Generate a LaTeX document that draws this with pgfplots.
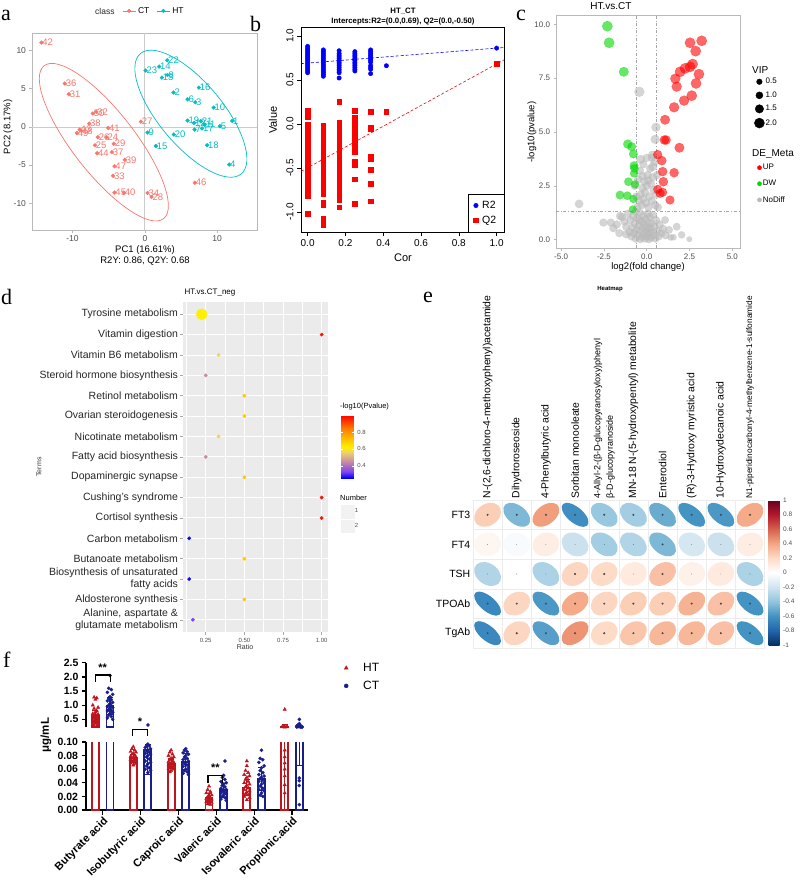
\documentclass[border=0pt]{standalone}
\usepackage{fontspec}
\setmainfont{Liberation Sans}
\newfontfamily\serifl{Liberation Serif}
\usepackage{pgfplots}
\usepackage{pgfplotstable}
\pgfplotsset{compat=1.18}
\pgfplotsset{/pgf/number format/assume math mode=true}
\newcommand\fz[1]{\fontsize{#1}{#1}\selectfont}

\definecolor{ctc}{RGB}{248,118,109}
\definecolor{htc}{RGB}{0,191,196}
\definecolor{upc}{RGB}{255,0,0}
\definecolor{dwc}{RGB}{0,215,0}
\definecolor{ndc}{RGB}{185,185,185}
\definecolor{ggbg}{RGB}{235,235,235}
\definecolor{htred}{RGB}{190,20,30}
\definecolor{ctblue}{RGB}{25,30,140}
\definecolor{tickgrey}{RGB}{77,77,77}

% ---------- a: PCA scores
\pgfplotstableread{
x y l
-14.3 11.05 42
-11.06 5.68 36
-10.5 4.28 31
-6.7 1.97 32
-7.2 1.75 50
-7.7 0.44 38
-5.07 -0.13 41
-9.0 -0.35 43
-9.4 -0.8 49
-8.8 -0.5 48
-6.5 -1.35 26
-5.3 -1.35 24
-6.9 -2.4 25
-4.3 -2.2 29
-6.6 -3.45 44
-4.56 -3.3 37
-2.76 -4.3 39
-4.2 -5.15 47
-4.4 -6.4 33
-4.2 -8.6 45
-2.9 -8.6 40
0.37 -8.65 34
0.92 -9.17 28
-0.55 0.7 27
6.9 -7.3 46
}\datCT
\pgfplotstableread{
x y l
3.09 8.73 22
1.98 7.9 14
0.09 7.38 23
3.13 6.8 8
2.35 6.46 13
3.96 4.5 2
7.47 5.15 16
5.9 3.62 6
6.96 3.23 3
9.5 2.53 10
12.07 0.79 1
5.9 0.83 19
7.74 0.74 21
6.8 0.52 12
8.25 0.3 11
10.37 0.09 5
7.9 -0.2 17
6.87 -0.35 7
4.0 -1.0 20
0.37 -0.74 9
1.52 -2.5 15
8.6 -2.4 18
11.66 -4.93 4
}\datHT

% ---------- c: volcano
\pgfplotstableread{
x y s
-2.30 9.92 5.2
-2.20 9.15 5.2
-1.34 7.80 4.8
-1.11 4.44 4.5
-0.88 4.32 4.3
-0.78 3.98 4.3
-0.74 3.44 4.3
-0.72 3.31 4.2
-0.74 3.08 4.0
-1.07 2.69 4.2
-0.68 2.57 4.0
-1.56 2.07 4.3
-1.13 2.04 4.2
-0.78 1.89 4.0
-0.82 1.41 3.8
}\datDW
\pgfplotstableread{
x y s
2.53 9.15 5.2
3.21 9.24 5.2
2.86 8.76 5.2
2.68 8.16 5.2
2.53 8.03 5.2
2.24 7.96 5.2
1.95 7.80 5.2
3.05 7.69 5.2
1.67 7.48 5.0
1.75 7.11 5.0
2.88 7.26 5.2
2.63 6.69 5.2
2.18 6.46 5.0
1.60 6.15 5.0
1.07 5.57 4.8
1.03 4.63 4.6
1.13 4.63 4.6
1.91 4.27 4.8
0.64 3.95 4.5
0.88 3.67 4.6
0.93 3.16 4.6
1.60 3.11 4.6
0.97 2.69 4.6
0.64 2.34 4.4
0.93 2.20 4.4
0.78 2.15 4.4
1.36 1.84 4.4
}\datUP
\pgfplotstableread{
x y s
-0.43 6.87 5.0
0.54 5.22 4.5
0.49 4.66 4.5
-3.95 1.66 4.2
-2.53 0.79 4.0
-2.10 0.79 4.0
-1.95 0.53 4.0
-1.56 1.10 4.0
1.07 0.91 3.8
1.75 0.60 3.8
2.04 0.22 3.6
1.56 0.11 3.2
1.40 0.10 3.2
2.49 0.02 2.8
-0.35 3.73 4.3
0.33 3.93 4.3
0.35 3.39 4.3
-1.20 0.25 4.0
1.30 0.45 3.8
-1.45 1.05 4
-1.30 0.85 4
-1.20 0.60 4
-1.10 1.20 4
-1.00 0.35 4
-0.95 0.90 4
-0.90 0.15 4
-0.85 0.55 4
-0.80 1.10 4
-0.75 0.30 4
-0.70 0.75 4
-0.65 0.05 4
-0.60 0.45 4
-0.55 1.00 4
-0.50 0.20 4
-0.45 0.65 4
-0.40 1.25 4
-0.38 0.02 4
-0.35 0.40 4
-0.30 0.85 4
-0.28 0.12 4
-0.25 0.55 4
-0.20 1.10 4
-0.18 0.28 4
-0.15 0.70 4
-0.10 0.05 4
-0.08 0.95 4
-0.05 0.38 4
0.00 0.60 4
0.02 0.15 4
0.05 1.20 4
0.08 0.45 4
0.10 0.80 4
0.12 0.02 4
0.15 0.30 4
0.18 1.05 4
0.20 0.55 4
0.25 0.10 4
0.28 0.75 4
0.30 0.35 4
0.35 1.15 4
0.40 0.20 4
0.45 0.60 4
0.50 0.05 4
0.55 0.90 4
0.60 0.40 4
0.70 0.15 4
0.75 0.70 4
0.85 0.30 4
0.95 0.50 4
1.10 0.20 4
-1.60 0.30 4
-1.75 0.70 4
-0.45 0.90 4
-0.55 1.50 4
-0.45 1.80 4
-0.35 2.10 4
-0.30 1.60 4
-0.25 2.40 4
-0.20 1.90 4
-0.15 2.70 4
-0.10 2.20 4
-0.05 1.70 4
0.00 2.50 4
0.05 3.00 4
0.10 1.50 4
0.15 2.00 4
0.20 3.30 4
0.25 2.60 4
0.30 1.80 4
0.35 2.90 4
0.40 2.30 4
0.45 3.60 4
0.50 1.60 4
-0.60 2.00 4
-0.50 2.80 4
-0.40 3.20 4
-0.20 3.50 4
0.00 3.80 4
0.30 3.80 4
0.55 2.10 4
0.60 3.00 4
-0.70 2.50 4
-0.65 1.30 4
0.65 1.50 4
-0.25 2.95 4
0.10 2.75 4
}\datND

% ---------- d: enrichment
\pgfplotstableread{
k r p s
16 0.224 0.62 5.5
15 1.0 0.98 1.7
14 0.333 0.56 1.7
13 0.25 0.45 1.7
12 0.5 0.70 1.7
11 0.5 0.70 1.7
10 0.333 0.56 1.7
9 0.25 0.45 1.7
8 0.5 0.70 1.7
7 1.0 0.98 1.7
6 1.0 0.98 1.7
5 0.143 0.26 1.7
4 0.5 0.70 1.7
3 0.143 0.26 1.7
2 0.5 0.70 1.7
1 0.167 0.33 1.7
}\datKegg

% ---------- e: correlations
\pgfplotstableread{
x y r
1 5 0.25
2 5 -0.45
3 5 0.42
4 5 -0.62
5 5 -0.38
6 5 -0.35
7 5 -0.5
8 5 -0.6
9 5 -0.58
10 5 0.38
1 4 0.05
2 4 -0.03
3 4 0.1
4 4 -0.22
5 4 -0.35
6 4 -0.3
7 4 -0.45
8 4 -0.18
9 4 -0.22
10 4 0.1
1 3 -0.3
2 3 0.0
3 3 -0.32
4 3 0.22
5 3 0.2
6 3 0.12
7 3 0.3
8 3 0.08
9 3 0.12
10 3 -0.32
1 2 -0.65
2 2 0.22
3 2 -0.58
4 2 0.38
5 2 0.22
6 2 0.25
7 2 0.25
8 2 0.35
9 2 0.3
10 2 -0.6
1 1 -0.65
2 1 0.22
3 1 -0.55
4 1 0.45
5 1 0.2
6 1 0.28
7 1 0.33
8 1 0.33
9 1 0.3
10 1 -0.6
}\datCor

% ---------- f: SCFA
\pgfplotstableread{
x m ep em
0.807 0.62 0.2 0.2
1.807 0.076 0.006 0.006
2.807 0.068 0.007 0.007
3.807 0.018 0.006 0.006
4.807 0.033 0.012 0.012
5.807 0.22 0.11 0.25
}\barHT
\pgfplotstableread{
x m ep em
1.193 0.96 0.3 0.3
2.193 0.089 0.008 0.037
3.193 0.071 0.012 0.012
4.193 0.029 0.01 0.01
5.193 0.046 0.017 0.017
6.193 0.21 0.145 0.145
}\barCT
\pgfplotstableread{
x y
0.772 1.28
0.842 1.25
0.807 1.20
0.737 1.00
0.877 0.92
0.772 0.88
0.842 0.80
0.807 0.75
0.737 0.70
0.877 0.68
0.772 0.65
0.842 0.62
0.807 0.60
0.737 0.58
0.877 0.55
0.772 0.52
0.842 0.50
0.807 0.48
0.737 0.45
0.877 0.42
0.772 0.40
0.842 0.38
0.807 0.35
0.737 0.32
0.877 0.30
0.772 0.28
0.842 0.25
1.807 0.093
1.772 0.090
1.842 0.088
1.737 0.086
1.877 0.085
1.807 0.083
1.772 0.082
1.842 0.080
1.737 0.079
1.877 0.078
1.807 0.077
1.772 0.076
1.842 0.075
1.737 0.074
1.877 0.073
1.807 0.072
1.772 0.071
1.842 0.070
1.737 0.069
1.877 0.068
1.807 0.066
2.807 0.088
2.772 0.085
2.842 0.082
2.737 0.080
2.877 0.078
2.807 0.076
2.772 0.074
2.842 0.072
2.737 0.071
2.877 0.070
2.807 0.069
2.772 0.068
2.842 0.067
2.737 0.066
2.877 0.065
2.807 0.064
2.772 0.063
2.842 0.062
2.737 0.061
2.877 0.060
2.807 0.058
2.772 0.056
3.807 0.035
3.772 0.030
3.842 0.027
3.737 0.025
3.877 0.022
3.807 0.020
3.772 0.019
3.842 0.018
3.737 0.017
3.877 0.016
3.807 0.015
3.772 0.014
3.842 0.013
3.737 0.012
3.877 0.011
3.807 0.010
3.772 0.009
3.842 0.008
4.807 0.072
4.807 0.065
4.772 0.058
4.842 0.055
4.737 0.052
4.877 0.050
4.807 0.048
4.772 0.045
4.842 0.042
4.737 0.040
4.877 0.038
4.807 0.036
4.772 0.034
4.842 0.032
4.737 0.030
4.877 0.028
4.807 0.026
4.772 0.024
4.842 0.022
4.737 0.020
4.877 0.018
4.807 0.015
5.807 0.85
5.772 0.25
5.842 0.24
5.737 0.23
5.877 0.23
5.807 0.22
5.807 0.088
5.807 0.078
5.807 0.069
5.807 0.060
5.807 0.050
5.807 0.037
5.807 0.025
}\ptHT
\pgfplotstableread{
x y
1.193 2.05
1.158 1.60
1.228 1.55
1.123 1.45
1.263 1.38
1.193 1.30
1.158 1.25
1.228 1.20
1.123 1.15
1.263 1.10
1.193 1.05
1.158 1.00
1.228 0.98
1.123 0.95
1.263 0.92
1.193 0.90
1.158 0.85
1.228 0.82
1.123 0.80
1.263 0.75
1.193 0.70
1.158 0.65
1.228 0.60
1.123 0.55
1.263 0.50
2.193 0.30
2.193 0.097
2.158 0.095
2.228 0.094
2.123 0.092
2.263 0.090
2.193 0.088
2.158 0.087
2.228 0.085
2.123 0.083
2.263 0.082
2.193 0.080
2.158 0.078
2.228 0.075
2.123 0.072
2.263 0.070
2.193 0.068
2.158 0.065
2.228 0.062
2.123 0.060
2.263 0.058
2.193 0.055
3.193 0.090
3.158 0.088
3.228 0.086
3.123 0.084
3.263 0.082
3.193 0.080
3.158 0.078
3.228 0.076
3.123 0.074
3.263 0.072
3.193 0.070
3.158 0.068
3.228 0.066
3.123 0.064
3.263 0.062
3.193 0.060
3.158 0.058
3.228 0.056
3.123 0.054
3.263 0.052
4.228 0.072
4.193 0.051
4.158 0.048
4.228 0.045
4.123 0.042
4.263 0.040
4.193 0.038
4.158 0.036
4.228 0.034
4.123 0.032
4.263 0.030
4.193 0.029
4.158 0.028
4.228 0.026
4.123 0.025
4.263 0.024
4.193 0.022
4.158 0.020
4.228 0.018
4.123 0.016
4.263 0.014
5.193 0.088
5.158 0.076
5.228 0.074
5.123 0.070
5.263 0.065
5.193 0.062
5.158 0.058
5.228 0.055
5.123 0.052
5.263 0.050
5.193 0.048
5.158 0.046
5.228 0.044
5.123 0.042
5.263 0.040
5.193 0.038
5.158 0.035
5.228 0.032
5.123 0.030
5.263 0.028
5.193 0.025
5.158 0.022
5.228 0.020
6.193 0.50
6.193 0.35
6.158 0.30
6.228 0.28
6.123 0.26
6.263 0.25
6.193 0.24
6.158 0.24
6.228 0.23
6.123 0.23
6.263 0.22
6.193 0.047
6.193 0.043
6.193 0.036
6.193 0.008
}\ptCT

\begin{document}
\begin{tikzpicture}
\path[use as bounding box] (0,0) rectangle (800pt,-883pt);

% ===== a =====
\begin{axis}[
  scale only axis, width=225pt, height=197pt,
  at={(32pt,-230pt)}, anchor=south west,
  xmin=-15.6, xmax=15.5, ymin=-13.5, ymax=12.3,
  axis line style={gray!55, line width=0.6pt},
  tick align=outside, tick pos=left, major tick length=2.5pt,
  tick style={gray!55, line width=0.5pt},
  xtick={-10,0,10}, ytick={-10,-5,0,5,10},
  ticklabel style={font=\fz{8.5}, text=tickgrey},
  clip=false,
  legend columns=2,
  legend style={draw=none, fill=none, at={(0.40,1.112)}, anchor=west,
    font=\fz{8.5}, inner sep=0pt,
    /tikz/every even column/.append style={column sep=5pt}},
  legend image code/.code={\draw[mark repeat=2, mark phase=2, #1] plot coordinates {(0cm,0cm) (0.23cm,0cm) (0.46cm,0cm)};},
]
\addlegendimage{ctc, mark=*, mark size=1.6pt, line width=0.8pt}
\addlegendentry{CT}
\addlegendimage{htc, mark=*, mark size=1.6pt, line width=0.8pt}
\addlegendentry{HT}
\addplot[forget plot, gray!40, line width=0.8pt] coordinates {(0,-13.5) (0,12.3)};
\addplot[forget plot, gray!40, line width=0.8pt] coordinates {(-15.6,0) (15.5,0)};
\draw[ctc, line width=0.7pt] (axis cs:-5.67,-2.0) ellipse [x radius=97pt, y radius=31pt, rotate=-52];
\draw[htc, line width=0.7pt] (axis cs:6.36,1.73) ellipse [x radius=78.5pt, y radius=31.8pt, rotate=-50];
\addplot[forget plot, only marks, mark=*, mark size=1.9pt, ctc,
  point meta=explicit symbolic, nodes near coords,
  nodes near coords style={anchor=west, font=\fz{9.5}, text=ctc, inner sep=0.8pt}]
  table[x=x, y=y, meta=l] \datCT;
\addplot[forget plot, only marks, mark=*, mark size=1.9pt, htc,
  point meta=explicit symbolic, nodes near coords,
  nodes near coords style={anchor=west, font=\fz{9.5}, text=htc, inner sep=0.8pt}]
  table[x=x, y=y, meta=l] \datHT;
\end{axis}

% ===== b =====
\begin{axis}[
  scale only axis, width=203pt, height=205pt,
  at={(301pt,-232pt)}, anchor=south west,
  xmin=-0.035, xmax=1.039, ymin=-1.23, ymax=1.10,
  axis line style={black, line width=0.6pt},
  tick align=outside, tick pos=left, major tick length=4pt,
  tick style={black, line width=0.5pt},
  xtick={0,0.2,0.4,0.6,0.8,1.0}, ytick={-1,-0.5,0,0.5,1},
  xticklabel style={font=\fz{10}, /pgf/number format/.cd, fixed, fixed zerofill, precision=1},
  yticklabel style={font=\fz{10}, rotate=90, anchor=south, /pgf/number format/.cd, fixed, fixed zerofill, precision=1},
  legend cell align=left,
  legend style={at={(1,0)}, anchor=south east, draw=black, line width=0.5pt,
    font=\fz{10.5}, inner xsep=5.5pt, inner ysep=5pt, row sep=2pt,
    /tikz/every odd column/.append style={column sep=2pt}},
  legend image code/.code={\draw[#1] plot coordinates {(0.2cm,0cm)};},
]
\addplot[forget plot, blue, densely dashed, line width=0.6pt] coordinates {(-0.035,0.684) (1.039,0.867)};
\addplot[forget plot, red, densely dashed, line width=0.6pt] coordinates {(-0.035,-0.541) (1.039,0.726)};
\addplot[only marks, mark=*, mark size=2.2pt, blue] coordinates {
(0,0.58)(0,0.60)(0,0.62)(0,0.64)(0,0.66)(0,0.68)(0,0.70)(0,0.72)(0,0.74)(0,0.76)(0,0.78)(0,0.80)(0,0.82)(0,0.84)(0,0.86)(0,0.88)
(0.0833,0.54)(0.0833,0.56)(0.0833,0.58)(0.0833,0.60)(0.0833,0.62)(0.0833,0.64)(0.0833,0.66)(0.0833,0.68)(0.0833,0.70)(0.0833,0.72)(0.0833,0.74)(0.0833,0.76)(0.0833,0.78)(0.0833,0.80)(0.0833,0.82)(0.0833,0.84)
(0.1667,0.52)(0.1667,0.58)(0.1667,0.60)(0.1667,0.62)(0.1667,0.64)(0.1667,0.66)(0.1667,0.68)(0.1667,0.70)(0.1667,0.72)(0.1667,0.74)(0.1667,0.76)(0.1667,0.78)(0.1667,0.80)(0.1667,0.83)
(0.25,0.60)(0.25,0.62)(0.25,0.64)(0.25,0.66)(0.25,0.68)(0.25,0.70)(0.25,0.72)(0.25,0.74)(0.25,0.76)(0.25,0.78)(0.25,0.80)(0.25,0.82)
(0.3333,0.57)(0.3333,0.62)(0.3333,0.64)(0.3333,0.66)(0.3333,0.70)(0.3333,0.72)(0.3333,0.74)(0.3333,0.76)(0.3333,0.78)(0.3333,0.80)(0.3333,0.82)(0.3333,0.84)
(0.4167,0.66)(1,0.86)};
\addlegendentry{R2}
\addplot[only marks, mark=square*, mark size=2.3pt, red] coordinates {
(0,-1.02)(0,-0.82)(0,-0.79)(0,-0.76)(0,-0.73)(0,-0.70)(0,-0.67)(0,-0.64)(0,-0.61)(0,-0.58)(0,-0.55)(0,-0.52)(0,-0.49)(0,-0.46)(0,-0.43)(0,-0.40)(0,-0.37)(0,-0.34)(0,-0.31)(0,-0.28)(0,-0.25)(0,-0.22)(0,-0.19)(0,-0.16)(0,-0.13)(0,-0.10)(0,-0.07)(0,-0.04)(0,-0.01)(0,0.08)(0,0.15)
(0.0833,-1.15)(0.0833,-1.08)(0.0833,-0.92)(0.0833,-0.89)(0.0833,-0.80)(0.0833,-0.77)(0.0833,-0.74)(0.0833,-0.71)(0.0833,-0.68)(0.0833,-0.65)(0.0833,-0.62)(0.0833,-0.59)(0.0833,-0.56)(0.0833,-0.53)(0.0833,-0.50)(0.0833,-0.47)(0.0833,-0.44)(0.0833,-0.41)(0.0833,-0.38)(0.0833,-0.35)(0.0833,-0.32)(0.0833,-0.29)(0.0833,-0.26)(0.0833,-0.23)(0.0833,-0.20)(0.0833,-0.17)(0.0833,-0.14)(0.0833,-0.11)(0.0833,-0.08)(0.0833,-0.05)(0.0833,-0.02)
(0.1667,-0.95)(0.1667,-0.86)(0.1667,-0.82)(0.1667,-0.78)(0.1667,-0.75)(0.1667,-0.72)(0.1667,-0.69)(0.1667,-0.66)(0.1667,-0.63)(0.1667,-0.60)(0.1667,-0.57)(0.1667,-0.54)(0.1667,-0.51)(0.1667,-0.48)(0.1667,-0.45)(0.1667,-0.42)(0.1667,-0.39)(0.1667,-0.36)(0.1667,-0.33)(0.1667,-0.30)(0.1667,-0.27)(0.1667,-0.24)(0.1667,-0.21)(0.1667,-0.18)(0.1667,-0.15)(0.1667,-0.12)(0.1667,-0.09)(0.1667,-0.06)(0.1667,-0.03)(0.1667,0.00)(0.1667,0.02)(0.1667,0.25)
(0.25,-0.91)(0.25,-0.63)(0.25,-0.47)(0.25,-0.43)(0.25,-0.32)(0.25,-0.29)(0.25,-0.26)(0.25,-0.23)(0.25,-0.20)(0.25,-0.17)(0.25,-0.10)(0.25,-0.07)(0.25,-0.04)(0.25,-0.01)(0.25,0.02)(0.25,0.05)(0.25,0.07)(0.25,0.15)
(0.3333,-0.88)(0.3333,-0.68)(0.3333,-0.52)(0.3333,-0.40)(0.3333,-0.37)(0.3333,-0.06)(0.3333,-0.04)(0.3333,0.14)
(0.4167,0.14)(1,0.68)};
\addlegendentry{Q2}
\end{axis}

% ===== c =====
\begin{axis}[
  scale only axis, width=184.7pt, height=233pt,
  at={(556pt,-248pt)}, anchor=south west,
  xmin=-5.3, xmax=5.49, ymin=-0.39, ymax=10.44,
  axis line style={gray!55, line width=0.6pt},
  tick align=outside, tick pos=left, major tick length=2.5pt,
  tick style={gray!55, line width=0.5pt},
  xtick={-5,-2.5,0,2.5,5}, ytick={0,2.5,5,7.5,10},
  ticklabel style={font=\fz{8}, text=tickgrey, /pgf/number format/.cd, fixed, fixed zerofill, precision=1},
]
\addplot[scatter, only marks, mark=*,
  scatter/use mapped color={draw=ndc, fill=ndc, opacity=0.6, line width=0.1pt},
  visualization depends on={\thisrow{s} \as \ms},
  scatter/@pre marker code/.append style={/tikz/mark size=\ms}]
  table[x=x, y=y] \datND;
\addplot[scatter, only marks, mark=*,
  scatter/use mapped color={draw=dwc, fill=dwc, opacity=0.6, line width=0.1pt},
  visualization depends on={\thisrow{s} \as \ms},
  scatter/@pre marker code/.append style={/tikz/mark size=\ms}]
  table[x=x, y=y] \datDW;
\addplot[scatter, only marks, mark=*,
  scatter/use mapped color={draw=upc, fill=upc, opacity=0.6, line width=0.1pt},
  visualization depends on={\thisrow{s} \as \ms},
  scatter/@pre marker code/.append style={/tikz/mark size=\ms}]
  table[x=x, y=y] \datUP;
\addplot[gray!70, dash dot, line width=0.5pt] coordinates {(-0.585,-0.39) (-0.585,10.44)};
\addplot[gray!70, dash dot, line width=0.5pt] coordinates {(0.585,-0.39) (0.585,10.44)};
\addplot[gray!70, dash dot, line width=0.5pt] coordinates {(-5.3,1.301) (5.49,1.301)};
\end{axis}

% c legends
\begin{axis}[hide axis, scale only axis, width=10pt, height=10pt,
  at={(754pt,-77pt)}, anchor=north west, xmin=0, xmax=1, ymin=0, ymax=1,
  legend cell align=left,
  legend style={at={(0,1)}, anchor=north west, draw=none, fill=none,
    inner sep=0pt, font=\fz{8}, row sep=4.5pt, nodes={inner sep=1pt}}]
\addlegendimage{legend image code/.code={\fill[black] (0,0) circle (2.8pt);}}
\addlegendentry{0.5}
\addlegendimage{legend image code/.code={\fill[black] (0,0) circle (3.5pt);}}
\addlegendentry{1.0}
\addlegendimage{legend image code/.code={\fill[black] (0,0) circle (4.2pt);}}
\addlegendentry{1.5}
\addlegendimage{legend image code/.code={\fill[black] (0,0) circle (5pt);}}
\addlegendentry{2.0}
\end{axis}
\begin{axis}[hide axis, scale only axis, width=10pt, height=10pt,
  at={(757pt,-163pt)}, anchor=north west, xmin=0, xmax=1, ymin=0, ymax=1,
  legend cell align=left,
  legend style={at={(0,1)}, anchor=north west, draw=none, fill=none,
    inner sep=0pt, font=\fz{8}, row sep=7pt, nodes={inner sep=1pt}}]
\addlegendimage{legend image code/.code={\fill[upc] (0,0) circle (2.1pt);}}
\addlegendentry{UP}
\addlegendimage{legend image code/.code={\fill[dwc] (0,0) circle (2.1pt);}}
\addlegendentry{DW}
\addlegendimage{legend image code/.code={\fill[ndc] (0,0) circle (2.1pt);}}
\addlegendentry{NoDiff}
\end{axis}

% ===== d =====
\begin{axis}[
  scale only axis, width=145.6pt, height=330pt,
  at={(182.7pt,-632pt)}, anchor=south west,
  xmin=0.101, xmax=1.043, ymin=0.4, ymax=16.6,
  axis background/.style={fill=ggbg},
  axis line style={draw=none},
  xtick={0.25,0.5,0.75,1}, minor xtick={0.125,0.375,0.625,0.875},
  ytick={1,...,16},
  yticklabels={{Alanine, aspartate \&\\glutamate metabolism}, Aldosterone synthesis, {Biosynthesis of unsaturated\\fatty acids}, Butanoate metabolism, Carbon metabolism, Cortisol synthesis, Cushing's syndrome, Dopaminergic synapse, Fatty acid biosynthesis, Nicotinate metabolism, Ovarian steroidogenesis, Retinol metabolism, Steroid hormone biosynthesis, Vitamin B6 metabolism, Vitamin digestion, Tyrosine metabolism},
  xmajorgrids, ymajorgrids, xminorgrids,
  major grid style={white, line width=0.9pt},
  minor grid style={white, line width=0.45pt},
  tick align=outside, tick pos=left, major tick length=2.5pt, minor tick length=0pt,
  tick style={gray!70, line width=0.5pt},
  yticklabel style={font=\fontsize{10.5}{12}\selectfont, text=black!85, align=right, inner sep=2pt},
  xticklabel style={font=\fz{6}, text=tickgrey, /pgf/number format/.cd, fixed, fixed zerofill, precision=2},
  point meta min=0.253, point meta max=1.004,
  colormap={kegg}{rgb255(253pt)=(0,0,255); rgb255(330pt)=(130,70,240); rgb255(400pt)=(170,110,190); rgb255(450pt)=(200,140,165); rgb255(560pt)=(235,210,110); rgb255(620pt)=(255,240,0); rgb255(700pt)=(255,200,0); rgb255(850pt)=(255,120,0); rgb255(1004pt)=(255,0,0)},
  colorbar,
  colorbar style={at={(parent axis.north east)}, anchor=north west,
    xshift=4.4pt, yshift=-113pt, scale only axis, width=12.6pt, height=63pt,
    ytick={0.4,0.6,0.8}, axis line style={draw=none}, major tick length=2pt,
    tick style={white},
    yticklabel style={font=\fz{6}, text=tickgrey, /pgf/number format/.cd, fixed, fixed zerofill, precision=1}},
]
\addplot[scatter, only marks, mark=*, point meta=explicit,
  scatter/use mapped color={draw=mapped color, fill=mapped color},
  visualization depends on={\thisrow{s} \as \ms},
  scatter/@pre marker code/.append style={/tikz/mark size=\ms}]
  table[x=r, y=k, meta=p] \datKegg;
\end{axis}
\begin{axis}[hide axis, scale only axis, width=10pt, height=10pt,
  at={(340.7pt,-505pt)}, anchor=north west, xmin=0, xmax=1, ymin=0, ymax=1,
  legend cell align=left,
  legend style={at={(0,1)}, anchor=north west, draw=none, fill=none,
    inner sep=0pt, font=\fz{6}, row sep=1.5pt, nodes={inner sep=1pt, text=tickgrey}}]
\addlegendimage{legend image code/.code={\fill[gray!10] (0,-6.2pt) rectangle (12.6pt,6.2pt);}}
\addlegendentry{1}
\addlegendimage{legend image code/.code={\fill[gray!10] (0,-6.2pt) rectangle (12.6pt,6.2pt);}}
\addlegendentry{2}
\end{axis}

% ===== e =====
\begin{axis}[
  scale only axis, width=291.6pt, height=148pt,
  at={(473pt,-648pt)}, anchor=south west,
  xmin=0.5, xmax=10.5, ymin=0.5, ymax=5.5,
  axis line style={draw=none},
  xtick={1,...,10}, ytick={1,...,5},
  minor xtick={0.5,1.5,...,10.5}, minor ytick={0.5,1.5,...,5.5},
  xminorgrids, yminorgrids, minor grid style={gray!15, line width=0.5pt},
  major tick length=0pt, minor tick length=0pt,
  xticklabel pos=upper,
  xticklabels={{N-(2,6-dichloro-4-methoxyphenyl)acetamide}, Dihydroroseoside, 4-Phenylbutyric acid, Sorbitan monooleate, {\fz{9}4-Allyl-2-(β-D-glucopyranosyloxy)phenyl\\[2pt]\fz{9}β-D-glucopyranoside}, {MN-18 N-(5-hydroxypentyl) metabolite}, Enterodiol, (R)-3-Hydroxy myristic acid, 10-Hydroxydecanoic acid, {\fz{8.3}N1-piperidinocarbonyl-4-methylbenzene-1-sulfonamide}},
  xticklabel style={rotate=90, anchor=west, font=\fz{10.4}, inner sep=1.5pt, align=left},
  yticklabels={TgAb,TPOAb,TSH,FT4,FT3},
  yticklabel style={font=\fz{10.5}, inner sep=2.5pt},
  point meta min=-1, point meta max=1,
  colormap={rdbu}{rgb255(0pt)=(5,48,97); rgb255(1pt)=(33,102,172); rgb255(2pt)=(67,147,195); rgb255(3pt)=(146,197,222); rgb255(4pt)=(209,229,240); rgb255(5pt)=(255,255,255); rgb255(6pt)=(253,219,199); rgb255(7pt)=(244,165,130); rgb255(8pt)=(214,96,77); rgb255(9pt)=(178,24,43); rgb255(10pt)=(103,0,31)},
  colorbar,
  colorbar style={at={(parent axis.north east)}, anchor=north west,
    xshift=-4.5pt, scale only axis, width=11pt, height=145pt,
    ytick={-1,-0.8,-0.6,-0.4,-0.2,0,0.2,0.4,0.6,0.8,1},
    axis line style={draw=none}, major tick length=0pt,
    yticklabel style={font=\fz{6.5}, text=tickgrey}},
  clip=false,
]
\addplot[scatter, only marks, mark=*, mark size=0.01pt, point meta=explicit,
  visualization depends on={\thisrow{r} \as \rr},
  scatter/use mapped color={draw=none, fill=mapped color},
  scatter/@pre marker code/.append code={%
    \pgfmathsetmacro\ea{12*sqrt(1+abs(\rr))}%
    \pgfmathsetmacro\eb{12*sqrt(1-abs(\rr))}%
    \pgfmathsetmacro\sg{\rr<0 ? -1 : 1}%
    \pgfmathsetmacro\ax{1.12*0.7071*\ea}%
    \pgfmathsetmacro\ay{\sg*0.7071*\ea}%
    \pgfmathsetmacro\bx{-1.12*\sg*0.7071*\eb}%
    \pgfmathsetmacro\by{0.7071*\eb}%
    \pgfpathellipse{\pgfpointorigin}{\pgfpoint{\ax pt}{\ay pt}}{\pgfpoint{\bx pt}{\by pt}}%
    \pgfsetfillcolor{mapped color}%
    \pgfusepath{fill}%
  }]
  table[x=x, y=y, meta=r] \datCor;
\addplot[only marks, mark=*, mark size=0.8pt, black!70] coordinates {
(1,5)(2,5)(3,5)(4,5)(5,5)(6,5)(7,5)(8,5)(9,5)(10,5)
(7,4)(4,3)(5,3)(7,3)
(1,2)(2,2)(3,2)(4,2)(5,2)(6,2)(7,2)(8,2)(9,2)(10,2)
(1,1)(2,1)(3,1)(4,1)(5,1)(6,1)(7,1)(8,1)(9,1)(10,1)};
\end{axis}

% ===== f upper =====
\begin{axis}[
  scale only axis, width=222.3pt, height=64.6pt,
  at={(86pt,-727.3pt)}, anchor=south west,
  xmin=0.558, xmax=6.43, ymin=0.218, ymax=2.5,
  axis x line=none, axis y line*=left,
  axis line style={line width=1.5pt, black},
  ytick={0.5,1,1.5,2,2.5},
  tick align=outside, major tick length=4pt, tick style={line width=1.3pt, black},
  yticklabel style={font=\bfseries\fz{10.5}, /pgf/number format/.cd, fixed, fixed zerofill, precision=1},
]
\addplot[ybar, bar width=7pt, bar shift=0pt, draw=htred, fill=white, line width=1.8pt,
  restrict y to domain=0.218:10,
  error bars/.cd, y dir=both, y explicit,
  error bar style={htred, line width=1.1pt},
  error mark options={htred, line width=1.1pt, mark size=3pt, rotate=90}]
  table[x=x, y=m, y error plus=ep, y error minus=em] \barHT;
\addplot[ybar, bar width=7pt, bar shift=0pt, draw=ctblue, fill=white, line width=1.8pt,
  restrict y to domain=0.218:10,
  error bars/.cd, y dir=both, y explicit,
  error bar style={ctblue, line width=1.1pt},
  error mark options={ctblue, line width=1.1pt, mark size=3pt, rotate=90}]
  table[x=x, y=m, y error plus=ep, y error minus=em] \barCT;
\addplot[only marks, mark=triangle*, mark size=1.9pt, htred, restrict y to domain=0.218:2.5] table[x=x, y=y] \ptHT;
\addplot[only marks, mark=*, mark size=1.6pt, ctblue, restrict y to domain=0.218:2.5] table[x=x, y=y] \ptCT;
\end{axis}

% ===== f lower =====
\begin{axis}[
  scale only axis, width=222.3pt, height=68pt,
  at={(86pt,-810pt)}, anchor=south west,
  xmin=0.558, xmax=6.43, ymin=0, ymax=0.1,
  axis x line*=bottom, axis y line*=left,
  axis line style={line width=1.5pt, black},
  xtick={1,...,6},
  xticklabels={Butyrate acid, Isobutyric acid, Caproic acid, Valeric acid, Isovaleric acid, Propionic.acid},
  xticklabel style={rotate=45, anchor=north east, font=\bfseries\fz{11}, inner sep=1pt},
  ytick={0,0.02,0.04,0.06,0.08,0.1},
  yticklabel style={font=\bfseries\fz{10.5}, /pgf/number format/.cd, fixed, fixed zerofill, precision=2},
  tick align=outside, major tick length=4.5pt, tick style={line width=1.3pt, black},
]
\addplot[ybar, bar width=7pt, bar shift=0pt, draw=htred, fill=white, line width=1.8pt,
  error bars/.cd, y dir=both, y explicit,
  error bar style={htred, line width=1.1pt},
  error mark options={htred, line width=1.1pt, mark size=3pt, rotate=90}]
  table[x=x, y=m, y error plus=ep, y error minus=em] \barHT;
\addplot[ybar, bar width=7pt, bar shift=0pt, draw=ctblue, fill=white, line width=1.8pt,
  error bars/.cd, y dir=both, y explicit,
  error bar style={ctblue, line width=1.1pt},
  error mark options={ctblue, line width=1.1pt, mark size=3pt, rotate=90}]
  table[x=x, y=m, y error plus=ep, y error minus=em] \barCT;
\addplot[only marks, mark=triangle*, mark size=1.9pt, htred, restrict y to domain=0:0.1] table[x=x, y=y] \ptHT;
\addplot[only marks, mark=*, mark size=1.6pt, ctblue, restrict y to domain=0:0.1] table[x=x, y=y] \ptCT;
\end{axis}

% f legend
\begin{axis}[hide axis, scale only axis, width=10pt, height=10pt,
  at={(344pt,-662pt)}, anchor=north west, xmin=0, xmax=1, ymin=0, ymax=1,
  legend cell align=left,
  legend style={at={(0,1)}, anchor=north west, draw=none, fill=none,
    inner sep=0pt, font=\fz{12}, row sep=6pt, nodes={inner sep=1pt},
    /tikz/every odd column/.append style={column sep=14pt}},
  legend image code/.code={\draw[#1] plot coordinates {(0.2cm,0cm)};}]
\addlegendimage{only marks, mark=triangle*, mark size=2.3pt, htred}
\addlegendentry{HT}
\addlegendimage{only marks, mark=*, mark size=2pt, ctblue}
\addlegendentry{CT}
\end{axis}

% ===== free text =====
\begin{scope}[x=1pt, y=-1pt]
\node[font=\serifl\fz{22}, anchor=base west, inner sep=0pt] at (1,20.7) {a};
\node[font=\serifl\fz{22}, anchor=base west, inner sep=0pt] at (250,31.7) {b};
\node[font=\serifl\fz{22}, anchor=base west, inner sep=0pt] at (516,20.5) {c};
\node[font=\serifl\fz{22}, anchor=base west, inner sep=0pt] at (1,304) {d};
\node[font=\serifl\fz{22}, anchor=base west, inner sep=0pt] at (423,302) {e};
\node[font=\serifl\fz{22}, anchor=base west, inner sep=0pt] at (3,667) {f};

\node[font=\fz{8.5}, text=black!85, anchor=west, inner sep=0pt] at (95,11) {class};
\node[font=\fz{9.5}] at (145,250) {PC1 (16.61\%)};
\node[font=\fz{9.5}] at (145,261) {R2Y: 0.86, Q2Y: 0.68};
\node[font=\fz{9.5}, rotate=90] at (8,127) {PC2 (8.17\%)};

\node[font=\bfseries\fz{7.8}] at (403,11) {HT\_CT};
\node[font=\bfseries\fz{7.8}] at (403,21) {Intercepts:R2=(0.0,0.69), Q2=(0.0,-0.50)};
\node[font=\fz{11}] at (403,258) {Cor};
\node[font=\fz{11}, rotate=90] at (273,120) {Value};

\node[font=\fz{10}] at (611,6) {HT.vs.CT};
\node[font=\fz{9.5}] at (648,267) {log2(fold change)};
\node[font=\fz{9.5}, rotate=90] at (532,132) {-log10(pvalue)};
\node[font=\fz{10}, anchor=west, inner sep=0pt] at (752,70) {VIP};
\node[font=\fz{10}, anchor=west, inner sep=0pt] at (752,154) {DE\_Meta};

\node[font=\fz{8}] at (210,293) {HT.vs.CT\_neg};
\node[font=\fz{7}, text=black!80] at (245,647) {Ratio};
\node[font=\fz{7}, text=black!80, rotate=90] at (39,467) {Terms};
\node[font=\fz{7.5}, anchor=west, inner sep=0pt] at (340,407) {-log10(Pvalue)};
\node[font=\fz{7.5}, anchor=west, inner sep=0pt] at (340,498) {Number};

\node[font=\bfseries\fz{6}] at (610,289) {Heatmap};

\node[font=\bfseries\fz{11.5}, rotate=90] at (46,735) {μg/mL};
\draw[line width=1.1pt] (95.4,682) -- (95.4,675) -- (110.1,675) -- (110.1,682);
\node[font=\bfseries\fz{11}] at (102.7,668) {**};
\draw[line width=1.1pt] (132.7,736) -- (132.7,729.3) -- (147.3,729.3) -- (147.3,736);
\node[font=\bfseries\fz{11}] at (140,722) {*};
\draw[line width=1.1pt] (208,783) -- (208,775.7) -- (222.6,775.7) -- (222.6,783);
\node[font=\bfseries\fz{11}] at (215.3,768) {**};
\end{scope}
\end{tikzpicture}
\end{document}
